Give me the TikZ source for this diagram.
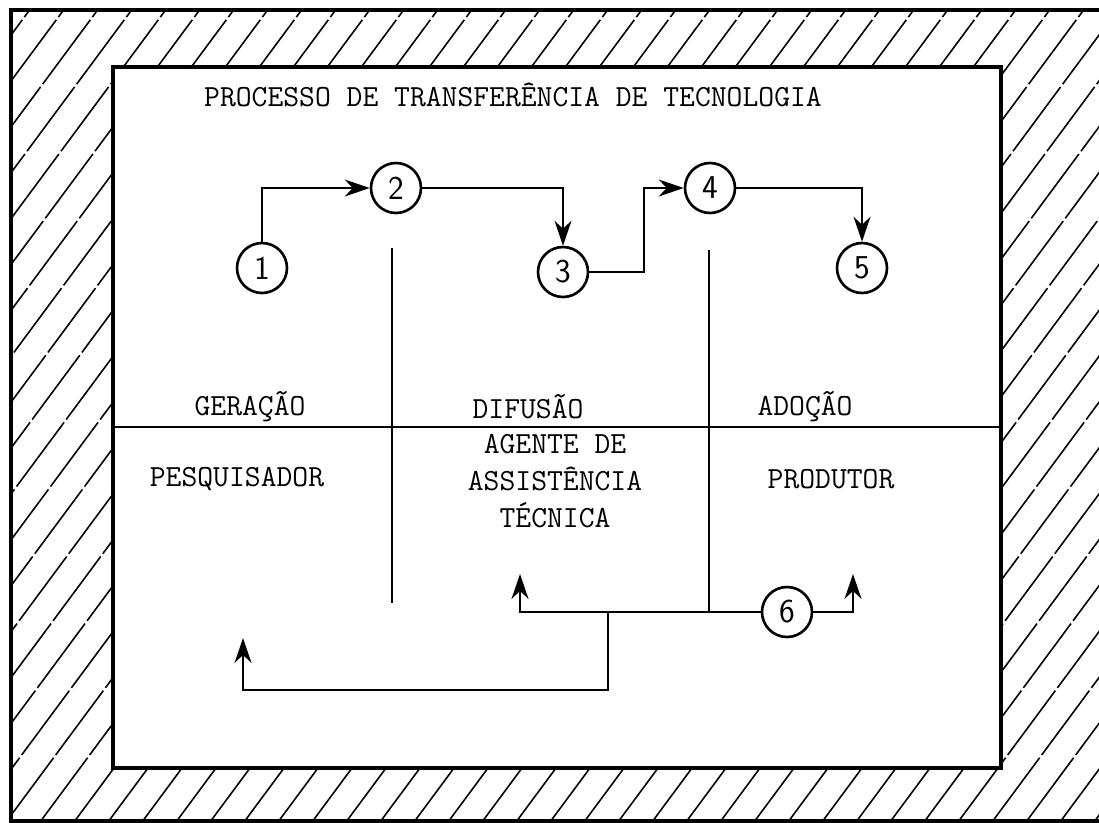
\documentclass[tikz,border=0pt]{standalone}
\usetikzlibrary{arrows.meta}
\tikzset{
  frame/.style={line width=2pt},
  divider/.style={line width=1.4pt},
  hatch/.style={line width=0.9pt, dash pattern=on 1.6cm off 0.07cm},
  stage/.style={circle, draw, line width=1.5pt, minimum size=1cm, inner sep=0pt,
    font=\sffamily\fontsize{19}{22}\selectfont},
  caption text/.style={font=\ttfamily\fontsize{17.5}{21}\selectfont, align=center},
  flow/.style={line width=1.3pt, -{Stealth[length=0.5cm, width=0.34cm]}},
}
\begin{document}
\begin{tikzpicture}[x=0.02cm, y=-0.02cm]
  \useasboundingbox (0,0) rectangle (1099,822);
  % Hatched border
  \begin{scope}
    \clip (11,10) rectangle (1099,821);
    \foreach \x in {-640,-606,...,1099}
      \draw[hatch] (\x,822) -- ++(609,-822);
  \end{scope}
  \draw[frame] (1099,10) -- (11,10) -- (11,821) -- (1099,821);
  % Inner box
  \draw[frame, fill=white] (113,67) rectangle (1001,768);
  \draw[divider] (113,427) -- (1001,427);
  % Title
  \node[caption text, anchor=west] (title) at (198,95) {PROCESSO DE TRANSFERÊNCIA DE TECNOLOGIA};
  % Stages
  \node[stage] (c1) at (262,268) {1};
  \node[stage] (c2) at (396,188) {2};
  \node[stage] (c3) at (563,272) {3};
  \node[stage] (c4) at (710,188) {4};
  \node[stage] (c5) at (862,268) {5};
  \node[stage] (c6) at (787,612) {6};
  % Columns
  \coordinate (s1 top) at (392,248);
  \coordinate (s1 bot) at (392,603);
  \coordinate (s2 top) at (709,250);
  \coordinate (s2 bot) at (709,612);
  \draw[divider] (s1 top) -- (s1 bot);
  \draw[divider] (s2 top) -- (s2 bot);
  % Labels
  \node[caption text] (geracao) at (250,407) {GERAÇÃO};
  \node[caption text] (difusao) at (528,407) {DIFUSÃO};
  \node[caption text] (adocao) at (805,407) {ADOÇÃO};
  \node[caption text] (pesq) at (237,479) {PESQUISADOR};
  \node[caption text] (agente) at (555,481) {AGENTE DE\\ASSISTÊNCIA\\TÉCNICA};
  \node[caption text] (prod) at (831,479) {PRODUTOR};
  % Forward flow
  \draw[flow] (c1.north) |- (c2.west);
  \draw[flow] (c2.east) -| (c3.north);
  \draw[flow] (c3.east) -- ++(55,0) |- (c4.west);
  \draw[flow] (c4.east) -| (c5.north);
  % Feedback
  \coordinate (to agente) at (520,574);
  \coordinate (to prod) at (853,574);
  \coordinate (to pesq) at (243,638);
  \coordinate (split) at (608,612);
  \draw[flow] (c6.west) -| (to agente);
  \draw[flow] (c6.east) -| (to prod);
  \draw[flow] (split) -- (608,690) -| (to pesq);
\end{tikzpicture}
\end{document}
